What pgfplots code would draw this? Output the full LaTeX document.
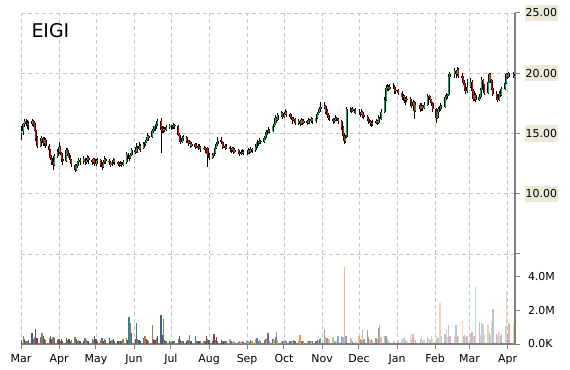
\documentclass[border=0pt]{standalone}
\usepackage{pgfplots}
\pgfplotsset{compat=1.18}
\usepackage{pgfplotstable}
\usepackage{fontspec}
\setmainfont{DejaVu Sans}
\definecolor{upg}{RGB}{0,176,80}
\definecolor{dnr}{RGB}{255,0,0}
\definecolor{gridc}{RGB}{200,200,200}
\definecolor{axc}{RGB}{128,128,128}
\definecolor{lblbg}{RGB}{236,233,216}
\definecolor{vc0}{HTML}{4F81BD}
\definecolor{vc1}{HTML}{C0504D}
\definecolor{vc2}{HTML}{9BBB59}
\definecolor{vc3}{HTML}{8064A2}
\definecolor{vc4}{HTML}{4BACC6}
\definecolor{vc5}{HTML}{F79646}

\pgfplotstableread{
d o h l c v
0 15.0 15.6 14.5 15.2 0.25
2 15.2 15.9 14.9 15.8 0.50
3 15.8 16.2 15.5 16.0 0.30
4 16.0 16.2 15.6 15.9 0.20
5 15.9 16.1 15.4 15.7 0.15
6 15.7 16.0 15.3 15.8 0.25
9 15.8 16.2 15.6 16.0 0.63
10 16.0 16.1 15.5 15.8 0.30
11 15.9 16.0 15.2 15.3 0.43
12 15.3 15.4 14.4 14.6 0.90
13 14.6 14.8 13.8 14.0 0.35
16 14.0 14.6 13.9 14.4 0.40
17 14.4 14.8 14.2 14.6 0.63
18 14.6 14.7 14.0 14.2 0.45
19 14.2 14.7 14.0 14.5 0.30
20 14.5 14.6 13.8 14.0 0.25
23 14.0 14.1 13.4 13.6 0.35
24 13.6 13.7 12.8 13.0 0.45
25 13.0 13.2 12.4 12.6 0.30
26 12.6 12.8 12.0 12.4 0.40
27 12.4 13.3 12.3 13.1 0.35
30 13.1 13.7 13.0 13.5 0.25
31 13.5 14.3 13.3 13.9 0.30
32 13.9 14.0 13.2 13.4 0.20
33 13.4 13.5 12.6 12.9 0.30
34 12.9 13.1 12.4 12.7 0.15
37 12.7 13.8 12.6 13.6 0.35
38 13.6 13.8 13.1 13.3 0.25
39 13.3 13.4 12.8 13.0 0.30
40 13.0 13.2 12.5 12.8 0.20
41 12.8 12.9 12.2 12.5 0.25
44 12.4 12.5 11.8 12.0 0.40
45 12.0 12.5 11.9 12.3 0.30
46 12.3 12.7 12.1 12.6 0.20
47 12.6 13.0 12.4 12.8 0.25
48 12.8 13.0 12.4 12.7 0.15
51 12.7 13.1 12.5 12.9 0.20
52 12.9 13.0 12.4 12.6 0.35
53 12.6 13.0 12.5 12.8 0.25
54 12.8 13.2 12.6 13.0 0.15
55 13.0 13.1 12.5 12.8 0.20
58 12.8 12.9 12.4 12.6 0.30
59 12.6 13.0 12.5 12.9 0.25
60 12.9 13.0 12.3 12.5 0.45
61 12.5 12.9 12.3 12.7 0.30
62 12.7 13.0 12.5 12.8 0.20
65 12.8 12.9 12.2 12.4 0.25
66 12.4 12.5 12.0 12.2 0.35
67 12.2 12.8 12.1 12.6 0.20
68 12.6 13.1 12.5 12.9 0.30
69 12.9 13.0 12.5 12.7 0.25
72 12.7 12.9 12.4 12.6 0.35
73 12.6 12.7 12.2 12.4 0.20
74 12.4 12.8 12.3 12.6 0.25
75 12.6 13.0 12.5 12.8 0.30
76 12.8 12.9 12.4 12.6 0.20
79 12.6 12.7 12.3 12.5 0.15
80 12.5 12.6 12.2 12.4 0.20
81 12.4 12.7 12.3 12.5 0.15
82 12.5 12.6 12.2 12.4 0.20
83 12.4 12.8 12.3 12.6 0.30
86 12.6 13.5 12.5 13.3 0.35
87 13.3 13.4 12.9 13.1 0.25
88 13.1 13.2 12.7 13.0 1.63
89 13.0 13.4 12.9 13.2 1.27
90 13.2 13.8 13.1 13.6 0.68
93 13.6 13.9 13.3 13.5 0.30
94 13.5 14.2 13.4 13.8 1.25
95 13.8 14.0 13.4 13.7 0.30
96 13.7 14.3 13.6 14.0 0.25
97 14.0 14.1 13.5 13.7 0.20
100 13.8 14.3 13.7 14.1 0.35
101 14.1 14.5 14.0 14.3 0.50
102 14.3 14.7 14.2 14.5 0.30
103 14.5 15.0 14.4 14.8 0.25
104 14.8 14.9 14.4 14.6 0.20
107 14.7 15.4 14.6 15.2 1.14
108 15.2 15.6 15.0 15.4 0.30
109 15.4 15.8 15.2 15.6 0.25
110 15.6 16.0 15.4 15.8 0.35
111 15.8 16.2 15.6 16.0 0.45
114 16.0 16.3 13.4 15.3 1.72
115 15.3 15.6 15.0 15.2 0.55
116 15.2 15.6 15.0 15.4 1.47
117 15.4 15.5 15.1 15.3 0.25
118 15.3 15.7 15.2 15.5 0.20
121 15.5 15.8 15.4 15.6 0.15
122 15.6 15.7 15.3 15.5 0.10
123 15.5 15.7 15.4 15.5 0.15
124 15.5 15.9 15.4 15.7 0.20
125 15.7 15.8 15.4 15.6 0.15
128 15.6 15.7 14.8 14.9 0.30
129 14.9 15.0 14.3 14.5 0.45
130 14.5 14.6 14.1 14.3 0.25
131 14.3 14.8 14.2 14.6 0.20
132 14.6 14.9 14.4 14.7 0.15
135 14.7 14.8 14.2 14.4 0.20
136 14.4 14.5 14.0 14.2 0.25
137 14.2 14.5 14.1 14.3 0.55
138 14.3 14.4 13.8 14.0 0.20
139 14.0 14.3 13.9 14.1 0.20
142 14.1 14.2 13.7 13.9 0.50
143 13.9 14.2 13.8 14.0 0.15
144 14.0 14.1 13.6 13.8 0.20
145 13.8 14.1 13.7 13.9 0.15
146 13.9 14.0 13.5 13.7 0.20
149 13.7 14.0 13.6 13.8 0.20
150 13.8 13.9 13.4 13.6 0.15
151 13.6 13.8 13.3 13.5 0.50
152 13.8 13.9 12.2 13.2 0.30
153 13.2 13.4 12.8 13.0 0.25
156 13.0 13.4 12.9 13.2 0.20
157 13.2 13.6 13.1 13.4 0.60
158 13.4 14.0 13.3 13.8 0.25
159 13.8 14.3 13.7 14.1 0.40
160 14.1 14.7 14.0 14.4 0.20
163 14.5 14.7 14.1 14.3 0.25
164 14.3 14.4 13.7 13.9 0.20
165 13.9 14.2 13.8 14.0 0.15
166 14.0 14.1 13.6 13.8 0.20
167 13.8 14.1 13.7 13.9 0.15
170 13.9 14.0 13.5 13.7 0.30
171 13.7 13.8 13.4 13.6 0.15
172 13.6 13.9 13.5 13.8 0.10
173 13.8 13.9 13.3 13.5 0.15
174 13.5 13.8 13.4 13.6 0.10
177 13.6 13.7 13.3 13.5 0.10
178 13.5 13.6 13.1 13.3 0.15
179 13.3 13.6 13.2 13.4 0.10
180 13.4 13.7 13.3 13.5 0.15
181 13.5 13.6 13.2 13.4 0.10
184 13.4 13.6 13.2 13.4 0.20
185 13.4 13.8 13.3 13.6 0.15
186 13.6 13.7 13.3 13.5 0.10
187 13.5 13.9 13.4 13.7 0.25
188 13.7 13.8 13.4 13.6 0.15
191 13.6 14.1 13.5 13.9 0.30
192 13.9 14.5 13.8 14.3 0.35
193 14.3 14.4 14.0 14.2 0.20
194 14.2 14.6 14.1 14.4 0.25
195 14.4 14.5 14.1 14.3 0.20
198 14.3 14.8 14.2 14.6 0.25
199 14.6 15.1 14.5 14.9 0.30
200 14.9 15.3 14.8 15.1 0.35
201 15.1 15.5 15.0 15.3 0.65
202 15.3 15.4 15.0 15.2 0.20
205 15.2 15.8 15.1 15.6 0.30
206 15.6 16.0 15.5 15.8 0.25
207 15.8 16.5 15.7 16.3 0.40
208 16.3 16.4 15.9 16.1 0.70
209 16.1 16.7 16.0 16.5 0.25
212 16.5 16.9 16.4 16.7 0.20
213 16.7 16.8 16.2 16.4 0.15
214 16.4 16.8 16.3 16.6 0.20
215 16.6 17.0 16.5 16.8 0.25
216 16.8 16.9 16.4 16.6 0.15
219 16.6 16.7 16.2 16.4 0.20
220 16.4 16.6 16.1 16.3 0.15
221 16.3 16.4 15.8 16.1 0.20
222 16.1 16.4 16.0 16.2 0.25
223 16.2 16.3 15.7 15.9 0.20
226 15.9 16.2 15.7 16.0 0.15
227 16.0 16.1 15.6 15.8 0.55
228 15.8 16.3 15.7 16.1 0.15
229 16.1 16.2 15.7 15.9 0.20
230 15.9 16.2 15.8 16.0 0.15
233 16.0 16.1 15.7 15.9 0.15
234 15.9 16.3 15.8 16.1 0.20
235 16.1 16.2 15.8 16.0 0.15
236 16.0 16.4 15.9 16.2 0.20
237 16.2 16.3 15.8 16.0 0.15
240 16.0 16.5 15.9 16.3 0.20
241 16.3 16.8 16.2 16.6 0.25
242 16.6 17.0 16.5 16.8 0.20
243 16.8 17.2 16.7 17.0 0.30
244 17.0 17.6 16.9 17.2 0.35
247 17.2 17.6 17.0 17.3 0.90
248 17.3 17.4 16.6 16.8 0.40
249 16.8 17.0 16.3 16.5 0.35
250 16.5 16.7 16.1 16.3 0.30
251 16.3 16.5 16.0 16.2 0.25
254 16.2 16.3 15.8 16.0 0.40
255 16.0 16.3 15.9 16.1 0.20
256 16.1 16.5 16.0 16.3 0.15
257 16.3 16.4 16.0 16.2 0.20
258 16.2 16.3 15.8 16.0 0.45
261 16.0 16.1 15.3 15.5 0.45
262 15.5 15.6 14.6 14.8 0.40
263 14.8 15.0 14.1 14.4 4.60
264 14.4 14.9 14.2 14.6 0.50
265 14.7 17.2 14.6 17.0 0.45
268 17.0 17.2 16.8 17.0 0.35
269 17.0 17.1 16.7 16.9 0.30
270 16.9 17.2 16.8 17.0 0.20
272 17.0 17.1 16.6 16.7 0.15
275 16.7 17.0 16.5 16.7 0.50
276 16.7 16.8 16.4 16.6 0.30
277 16.6 17.0 16.5 16.8 0.25
278 16.8 16.9 16.3 16.5 0.85
279 16.5 16.7 16.2 16.4 0.30
282 16.4 16.5 16.0 16.2 0.85
283 16.2 16.3 15.8 16.0 0.40
284 16.0 16.1 15.6 15.9 0.25
285 15.9 16.0 15.5 15.8 0.30
286 15.8 16.1 15.6 15.9 0.20
289 15.9 16.2 15.8 16.0 0.35
290 16.0 16.1 15.7 15.9 0.30
291 15.9 16.5 15.8 16.3 0.98
292 16.3 16.4 16.0 16.2 1.14
293 16.2 17.0 16.1 16.8 0.40
296 16.8 18.0 16.7 17.8 0.45
297 17.8 19.0 17.7 18.8 0.50
298 18.8 19.1 18.5 18.9 0.30
299 18.9 19.0 18.5 18.7 0.15
300 18.7 19.1 18.6 18.9 0.10
303 18.9 19.2 18.7 18.9 0.15
304 18.9 19.0 18.3 18.5 0.20
305 18.5 18.8 18.3 18.6 0.10
307 18.6 18.7 18.2 18.4 0.25
310 18.4 18.5 17.8 18.0 0.30
311 18.0 18.3 17.7 18.1 0.35
312 18.1 18.2 17.5 17.9 0.40
313 17.9 18.0 17.4 17.8 0.25
314 17.8 18.1 17.6 17.9 0.20
317 17.9 18.0 17.3 17.6 0.60
318 17.6 17.7 17.1 17.3 0.30
319 17.3 17.8 17.2 17.6 0.60
320 17.6 17.7 16.2 16.9 0.35
321 16.9 17.6 16.8 17.4 0.25
325 17.4 17.5 16.8 17.0 0.30
326 17.0 17.5 16.9 17.3 0.50
327 17.3 17.4 16.9 17.1 0.20
328 17.1 17.6 17.0 17.4 0.25
331 17.4 18.3 17.3 18.1 0.40
332 18.1 18.2 17.8 18.0 0.30
333 18.0 18.1 17.6 17.8 0.25
334 17.8 17.9 17.3 17.5 0.50
335 17.5 17.6 16.8 17.0 0.30
338 17.0 17.1 15.9 16.3 0.50
339 16.3 17.0 16.2 16.8 0.35
340 16.8 17.2 16.6 17.0 0.40
341 17.0 17.5 16.9 17.3 2.45
342 17.3 17.4 17.0 17.2 0.50
345 17.2 18.2 17.1 18.0 0.60
346 18.0 18.4 17.8 18.1 0.90
347 18.1 18.3 17.9 18.2 0.40
348 18.2 19.9 18.1 19.7 1.15
349 19.7 20.1 19.5 19.9 0.45
353 19.9 20.4 19.6 20.2 0.55
354 20.2 20.3 19.6 19.9 1.15
355 19.9 20.5 19.8 20.3 0.50
356 20.3 20.4 19.6 19.8 0.45
359 19.8 20.0 19.4 19.6 1.37
360 19.6 19.8 19.0 19.2 0.45
361 19.2 19.4 18.5 18.7 0.55
362 18.7 19.0 18.3 18.5 0.40
363 18.5 19.5 18.4 18.9 0.50
366 18.9 19.6 18.8 19.3 0.60
367 19.3 19.4 18.3 18.5 0.70
368 18.5 18.7 17.7 17.9 0.45
369 17.9 18.5 17.7 18.2 0.50
370 18.2 18.4 17.6 17.8 3.40
373 17.8 18.3 17.7 18.0 1.33
374 18.0 18.8 17.9 18.6 0.55
375 18.6 19.7 18.5 19.4 1.25
376 19.4 19.5 18.8 19.0 1.20
377 19.0 19.1 18.2 18.4 0.60
380 18.4 19.5 18.3 19.3 1.15
381 19.3 20.0 19.2 19.9 0.65
382 19.9 20.0 19.2 19.4 0.55
383 19.4 19.5 18.6 18.8 1.40
384 18.8 18.9 18.1 18.3 2.08
387 18.3 18.5 17.8 18.0 0.60
388 18.0 18.2 17.6 17.8 0.55
389 17.8 18.5 17.7 18.3 0.70
390 18.3 18.4 18.0 18.2 0.50
391 18.2 18.9 18.1 18.7 0.60
394 18.7 19.4 18.6 19.2 1.10
395 19.2 20.0 19.1 19.9 3.15
396 19.9 20.0 19.5 19.7 0.60
397 19.7 20.1 19.6 20.0 1.25
401 19.9 20.1 19.6 19.8 1.20
}\pricedata

\begin{document}
\begin{tikzpicture}
\pgfplotsset{
  base/.style={
    scale only axis, width=494bp, xmin=0, xmax=402,
    xtick={0,31,61,92,122,153,184,214,245,275,306,337,365,396},
    xmajorgrids,
    major grid style={gridc, dash pattern=on 4bp off 3bp, line width=0.8bp},
    axis line style={axc, line width=1.2bp},
    tick style={axc, line width=1bp},
    tick align=outside, major tick length=4.5bp,
    tick label style={font=\fontsize{11}{13}\selectfont, text=black},
    clip=true,
  },
  candle/.style={draw=none, mark=none, forget plot,
    error bars/y explicit, error bars/error mark=none},
}
\path[use as bounding box] (-21bp,-26bp) rectangle (549bp,344bp);

% ---------- price panel ----------
\begin{axis}[base, at={(0bp,90bp)}, anchor=south west, height=241bp,
  ymin=5, ymax=25,
  axis y line*=right, axis x line*=bottom,
  x axis line style={draw=none}, xtick style={draw=none}, xticklabels={},
  ytick={10,15,20,25}, yticklabels={10.00,15.00,20.00,25.00},
  yticklabel style={fill=lblbg, inner xsep=1bp, inner ysep=4bp, xshift=5bp},
  ymajorgrids,
  extra y ticks={5}, extra y tick labels={},
  extra y tick style={grid=major, yticklabel style={fill=none}},
]
% wicks
\addplot[candle, error bars/y dir=plus,
  error bars/error bar style={draw=black, line width=0.8bp}]
  table[x=d, y=l, y error plus expr={\thisrow{h}-\thisrow{l}}] {\pricedata};
% bodies outline
\addplot[candle, error bars/y dir=plus,
  error bars/error bar style={draw=black, line width=2.0bp}]
  table[x=d, y expr={min(\thisrow{o},\thisrow{c})}, y error plus expr={abs(\thisrow{c}-\thisrow{o})}] {\pricedata};
% up bodies
\addplot[candle, error bars/y dir=plus,
  error bars/error bar style={draw=upg, line width=0.9bp}]
  table[x=d, y=o, y error plus expr={max(\thisrow{c}-\thisrow{o},0)}] {\pricedata};
% down bodies
\addplot[candle, error bars/y dir=minus,
  error bars/error bar style={draw=dnr, line width=0.9bp}]
  table[x=d, y=o, y error minus expr={max(\thisrow{o}-\thisrow{c},0)}] {\pricedata};
\node[anchor=base west, font=\fontsize{19}{22}\selectfont, text=black]
  at (rel axis cs:0,1) [xshift=7bp, yshift=-24.5bp] {EIGI};
\end{axis}

% ---------- volume panel ----------
\begin{axis}[base, at={(0bp,0bp)}, anchor=south west, height=90bp,
  ymin=0, ymax=5.37,
  axis y line*=right, axis x line*=bottom,
  ytick={0,2,4}, yticklabels={0.0K,2.0M,4.0M},
  yticklabel style={xshift=5bp},
  xticklabel style={yshift=-2bp},
  xticklabels={Mar,Apr,May,Jun,Jul,Aug,Sep,Oct,Nov,Dec,Jan,Feb,Mar,Apr},
]
\pgfplotsinvokeforeach{0,...,5}{
  \addplot[ycomb, mark=none, forget plot, line width=1.3bp, draw=vc#1!75!black]
    table[x=d, y expr={(mod(\thisrow{d},6)==#1 && \thisrow{d}<170) ? \thisrow{v} : 0}] {\pricedata};
  \addplot[ycomb, mark=none, forget plot, line width=1.3bp, draw=vc#1]
    table[x=d, y expr={(mod(\thisrow{d},6)==#1 && \thisrow{d}>=170 && \thisrow{d}<245) ? \thisrow{v} : 0}] {\pricedata};
  \addplot[ycomb, mark=none, forget plot, line width=1.3bp, draw=vc#1, draw opacity=0.7]
    table[x=d, y expr={(mod(\thisrow{d},6)==#1 && \thisrow{d}>=245 && \thisrow{d}<300) ? \thisrow{v} : 0}] {\pricedata};
  \addplot[ycomb, mark=none, forget plot, line width=1.3bp, draw=vc#1, draw opacity=0.45]
    table[x=d, y expr={(mod(\thisrow{d},6)==#1 && \thisrow{d}>=300) ? \thisrow{v} : 0}] {\pricedata};
}
\end{axis}
\end{tikzpicture}
\end{document}
